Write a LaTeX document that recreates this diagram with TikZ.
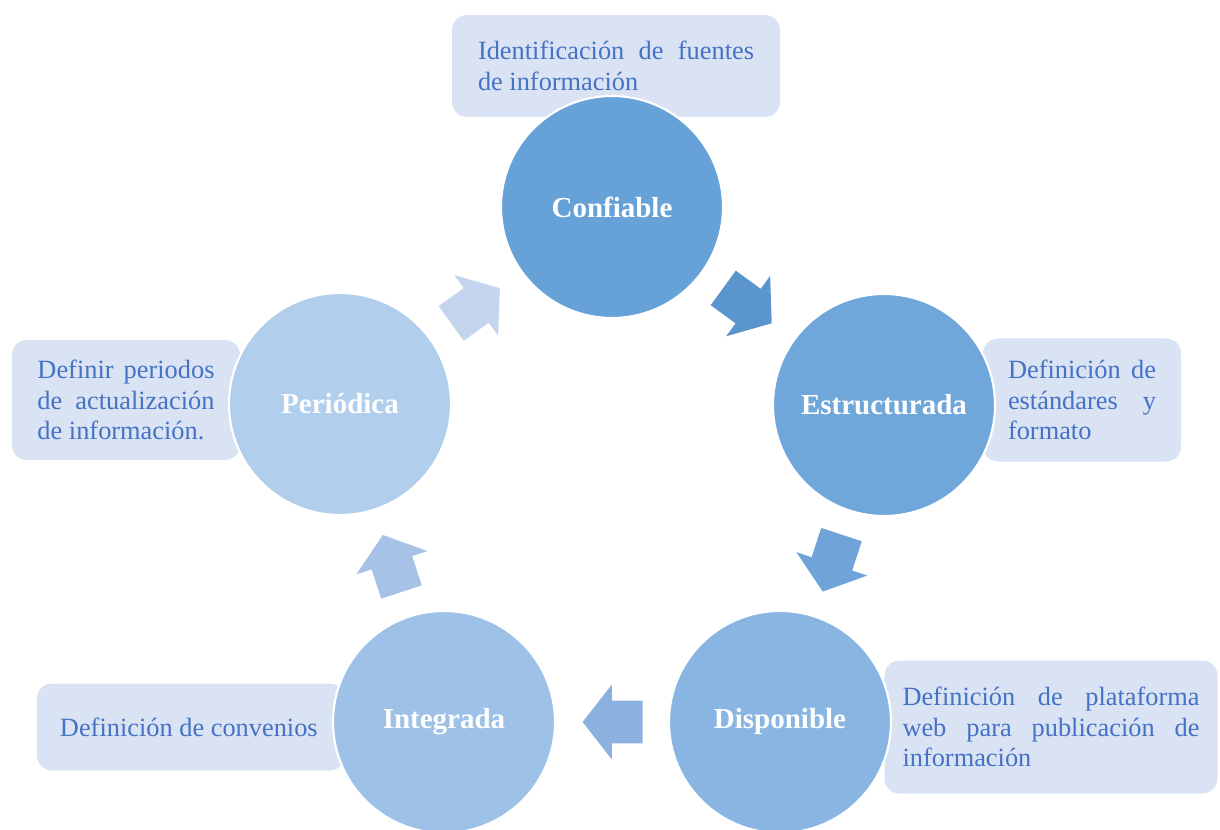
\documentclass[tikz,border=0pt]{standalone}
\usepackage{fontspec}
\setmainfont{Liberation Serif}
\usetikzlibrary{shapes.arrows}

\definecolor{notefill}{HTML}{DAE3F3}
\definecolor{notetext}{HTML}{4472C4}
\definecolor{confcol}{HTML}{66A2D8}
\definecolor{estrcol}{HTML}{70A7DB}
\definecolor{dispcol}{HTML}{89B5E2}
\definecolor{integcol}{HTML}{9DC1E7}
\definecolor{periodcol}{HTML}{B1CEEC}
\definecolor{arrowa}{HTML}{5B95CE}
\definecolor{arrowb}{HTML}{70A3D8}
\definecolor{arrowc}{HTML}{8DB1DE}
\definecolor{arrowd}{HTML}{A6C2E6}
\definecolor{arrowe}{HTML}{C3D4EC}

\hyphenpenalty=10000
\exhyphenpenalty=10000

\tikzset{
  phase/.style={circle, draw=white, line width=1.2pt, minimum size=44.4mm,
    inner sep=0pt, text=white, font=\fontsize{16.5}{19}\selectfont\bfseries},
  note/.style={rectangle, rounded corners=3mm, fill=notefill, text=notetext,
    align=justify, inner ysep=0pt, font=\fontsize{15}{17.5}\selectfont},
  cyclearrow/.style={single arrow, minimum height=12mm, inner xsep=0pt,
    inner ysep=4.2mm, single arrow head extend=3.2mm, single arrow tip angle=104,
    sloped, allow upside down, pos=0.42}
}

\begin{document}
\begin{tikzpicture}[x=0.2mm, y=-0.2mm]
  \useasboundingbox (0,0) rectangle (1220,830);

  % notes behind the circles
  \node (confnote)   [note, text width=55.2mm, inner xsep=5.2mm, minimum height=20.4mm] at (616,66)
    {Identificación de fuentes de información};
  \node (estrnote)   [note, text width=29.6mm, inner xsep=5mm, minimum height=24.6mm] at (1082,400)
    {Definición de estándares y formato};
  \node (dispnote)   [note, text width=59.4mm, inner xsep=3.6mm, minimum height=26.6mm] at (1051,727)
    {Definición de plataforma web para publicación de información};
  \node (integnote)  [note, text width=52.4mm, inner xsep=4.6mm, minimum height=17.4mm] at (191,727)
    {Definición de convenios};
  \node (periodnote) [note, text width=35.4mm, inner xsep=5.1mm, minimum height=24mm] at (126,400)
    {Definir periodos de actualización de información.};

  % the cycle
  \node (conf)   [phase, fill=confcol]   at (612,207) {Confiable};
  \node (estr)   [phase, fill=estrcol]   at (884,405) {Estructurada};
  \node (disp)   [phase, fill=dispcol]   at (780,722) {Disponible};
  \node (integ)  [phase, fill=integcol]  at (444,722) {Integrada};
  \node (period) [phase, fill=periodcol] at (340,404) {Periódica};

  \path (conf)   -- node (arrowone)   [cyclearrow, fill=arrowa] {} (estr);
  \path (estr)   -- node (arrowtwo)   [cyclearrow, fill=arrowb] {} (disp);
  \path (disp)   -- node (arrowthree) [cyclearrow, fill=arrowc] {} (integ);
  \path (integ)  -- node (arrowfour)  [cyclearrow, fill=arrowd] {} (period);
  \path (period) -- node (arrowfive)  [cyclearrow, fill=arrowe] {} (conf);
\end{tikzpicture}
\end{document}
